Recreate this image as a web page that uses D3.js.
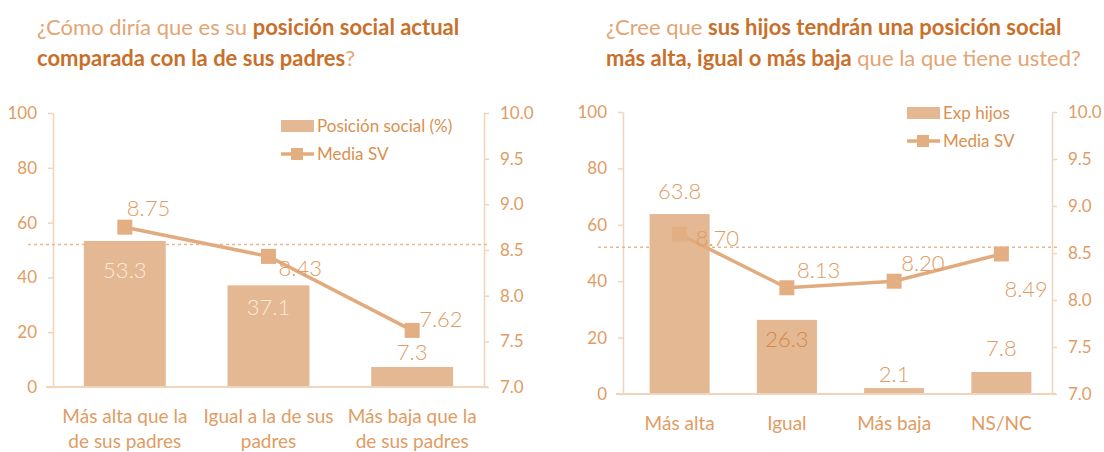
<!DOCTYPE html>
<html lang="es">
<head>
<meta charset="utf-8">
<title>Posición social</title>
<script src="https://d3js.org/d3.v7.min.js"></script>
<style>
  body { margin: 0; background: #fff; }
  svg text { font-family: "Lato", "Open Sans", sans-serif; }
  .axis text { font-size: 17px; fill: #E09C63; }
  .axis line, .axis path { stroke: #F0D4BC; stroke-width: 1.5; }
</style>
</head>
<body>
<script>
// data
const leftCategories = [["Más alta que la", "de sus padres"], ["Igual a la de sus", "padres"], ["Más baja que la", "de sus padres"]];
const leftBarValues = [53.3, 37.1, 7.3];
const leftMeanValues = [8.75, 8.43, 7.62];

const rightCategories = [["Más alta"], ["Igual"], ["Más baja"], ["NS/NC"]];
const rightBarValues = [63.8, 26.3, 2.1, 7.8];
const rightMeanValues = [8.70, 8.13, 8.20, 8.49];

const pctTicks = [0, 20, 40, 60, 80, 100];
const meanTicks = [7.0, 7.5, 8.0, 8.5, 9.0, 9.5, 10.0];
const overallMean = 8.56;

// colours
const barColor = "#E4B892";
const lineColor = "#E2AB7E";
const textColor = "#E09C63";
const darkText = "#C8702A";

const width = 1104, height = 452;
const svg = d3.select("body").append("svg")
  .attr("width", width)
  .attr("height", height);

function drawTitle(x, lines) {
  lines.forEach((parts, i) => {
    const t = svg.append("text")
      .attr("x", x)
      .attr("y", 35 + i * 31)
      .attr("font-size", "22px");
    parts.forEach(p => {
      t.append("tspan")
        .attr("font-weight", p[1] ? 700 : 400)
        .attr("fill", p[1] ? darkText : "#E2A574")
        .text(p[0]);
    });
  });
}

function drawPanel(cfg) {
  const g = svg.append("g");

  const x = d3.scaleBand()
    .domain(cfg.categories.map((d, i) => i))
    .range([cfg.left + cfg.shift, cfg.right + cfg.shift])
    .paddingInner(cfg.pad)
    .paddingOuter(cfg.pad / 2);

  const yPct = d3.scaleLinear().domain([0, 100]).range([cfg.bottom, cfg.top]);
  const yMean = d3.scaleLinear().domain([7, 10]).range([cfg.bottom, cfg.top]);

  // axes
  g.append("g")
    .attr("class", "axis")
    .attr("transform", `translate(${cfg.left},0)`)
    .call(d3.axisLeft(yPct).tickValues(pctTicks).tickSize(5).tickPadding(11).tickSizeOuter(0));

  g.append("g")
    .attr("class", "axis")
    .attr("transform", `translate(${cfg.right},0)`)
    .call(d3.axisRight(yMean).tickValues(meanTicks).tickFormat(d3.format(".1f")).tickSize(5).tickPadding(11).tickSizeOuter(0));

  // bars
  g.selectAll("rect.bar")
    .data(cfg.bars)
    .enter().append("rect")
    .attr("class", "bar")
    .attr("x", (d, i) => x(i))
    .attr("y", d => yPct(d))
    .attr("width", x.bandwidth())
    .attr("height", d => cfg.bottom - yPct(d))
    .attr("fill", barColor);

  // baseline
  g.append("line")
    .attr("x1", cfg.left - 7).attr("x2", cfg.right + 4)
    .attr("y1", cfg.bottom).attr("y2", cfg.bottom)
    .attr("stroke", "#F0D4BC").attr("stroke-width", 2);

  // overall mean reference
  g.append("line")
    .attr("x1", cfg.left - 25).attr("x2", cfg.right + 6)
    .attr("y1", yMean(overallMean)).attr("y2", yMean(overallMean))
    .attr("stroke", "#E9B78E").attr("stroke-width", 1.5)
    .attr("stroke-dasharray", "3,3");

  // bar labels
  g.selectAll("text.barlabel")
    .data(cfg.bars)
    .enter().append("text")
    .attr("class", "barlabel")
    .attr("x", (d, i) => x(i) + x.bandwidth() / 2)
    .attr("y", (d, i) => yPct(d) + cfg.barLabelDy[i])
    .attr("text-anchor", "middle")
    .attr("font-size", "22px")
    .attr("font-weight", 300)
    .attr("fill", (d, i) => cfg.barLabelColor[i])
    .text(d => d.toFixed(1));

  // mean line
  const line = d3.line()
    .x((d, i) => x(i) + x.bandwidth() / 2)
    .y(d => yMean(d));

  g.append("path")
    .datum(cfg.means)
    .attr("d", line)
    .attr("fill", "none")
    .attr("stroke", lineColor)
    .attr("stroke-width", 3.5);

  g.selectAll("rect.marker")
    .data(cfg.means)
    .enter().append("rect")
    .attr("class", "marker")
    .attr("x", (d, i) => x(i) + x.bandwidth() / 2 - 7.5)
    .attr("y", d => yMean(d) - 7.5)
    .attr("width", 15).attr("height", 15)
    .attr("fill", "#E2AE82");

  g.selectAll("text.meanlabel")
    .data(cfg.means)
    .enter().append("text")
    .attr("class", "meanlabel")
    .attr("x", (d, i) => x(i) + x.bandwidth() / 2 + cfg.meanLabelOffset[i][0])
    .attr("y", d => yMean(d))
    .attr("dy", (d, i) => cfg.meanLabelOffset[i][1])
    .attr("font-size", "22px")
    .attr("font-weight", 300)
    .attr("fill", textColor)
    .text(d => d.toFixed(2));

  // category labels
  cfg.categories.forEach((lines, i) => {
    const t = g.append("text")
      .attr("x", x(i) + x.bandwidth() / 2)
      .attr("y", cfg.bottom + 36)
      .attr("text-anchor", "middle")
      .attr("font-size", "19px")
      .attr("fill", textColor);
    lines.forEach((s, j) => {
      t.append("tspan")
        .attr("x", x(i) + x.bandwidth() / 2)
        .attr("dy", j === 0 ? 0 : 25)
        .text(s);
    });
  });

  // legend
  const lg = g.append("g").attr("transform", `translate(${cfg.legend[0]},${cfg.legend[1]})`);
  lg.append("rect").attr("x", 0).attr("y", -6).attr("width", 33).attr("height", 12).attr("fill", barColor);
  lg.append("text").attr("x", 36).attr("y", 6).attr("font-size", "17px").attr("fill", "#D9914F").text(cfg.barName);
  lg.append("line").attr("x1", 0).attr("x2", 33).attr("y1", 28).attr("y2", 28)
    .attr("stroke", lineColor).attr("stroke-width", 3.5);
  lg.append("rect").attr("x", 10).attr("y", 22).attr("width", 12).attr("height", 12).attr("fill", "#E2AE82");
  lg.append("text").attr("x", 36).attr("y", 34).attr("font-size", "17px").attr("fill", "#D9914F").text("Media SV");
}

drawTitle(37, [
  [["¿Cómo diría que es su ", false], ["posición social actual", true]],
  [["comparada con la de sus padres", true], ["?", false]]
]);
drawTitle(606, [
  [["¿Cree que ", false], ["sus hijos tendrán una posición social", true]],
  [["más alta, igual o más baja", true], [" que la que tiene usted?", false]]
]);

drawPanel({
  categories: leftCategories, bars: leftBarValues, means: leftMeanValues,
  left: 53, right: 484, top: 113, bottom: 387, shift: 0, pad: 0.43,
  barLabelDy: [37, 30, -7],
  barLabelColor: ["#FBEBDD", "#FBEBDD", textColor],
  meanLabelOffset: [[2, -11], [10, 20], [7, -3]],
  legend: [281, 126], barName: "Posición social (%)"
});

drawPanel({
  categories: rightCategories, bars: rightBarValues, means: rightMeanValues,
  left: 623, right: 1052, top: 112, bottom: 394, shift: 3, pad: 0.44,
  barLabelDy: [-15, 27, -6, -16],
  barLabelColor: [textColor, "#D9874A", textColor, textColor],
  meanLabelOffset: [[16, 12], [10, -10], [7, -10], [3, 43]],
  legend: [907, 113], barName: "Exp hijos"
});
</script>
</body>
</html>
